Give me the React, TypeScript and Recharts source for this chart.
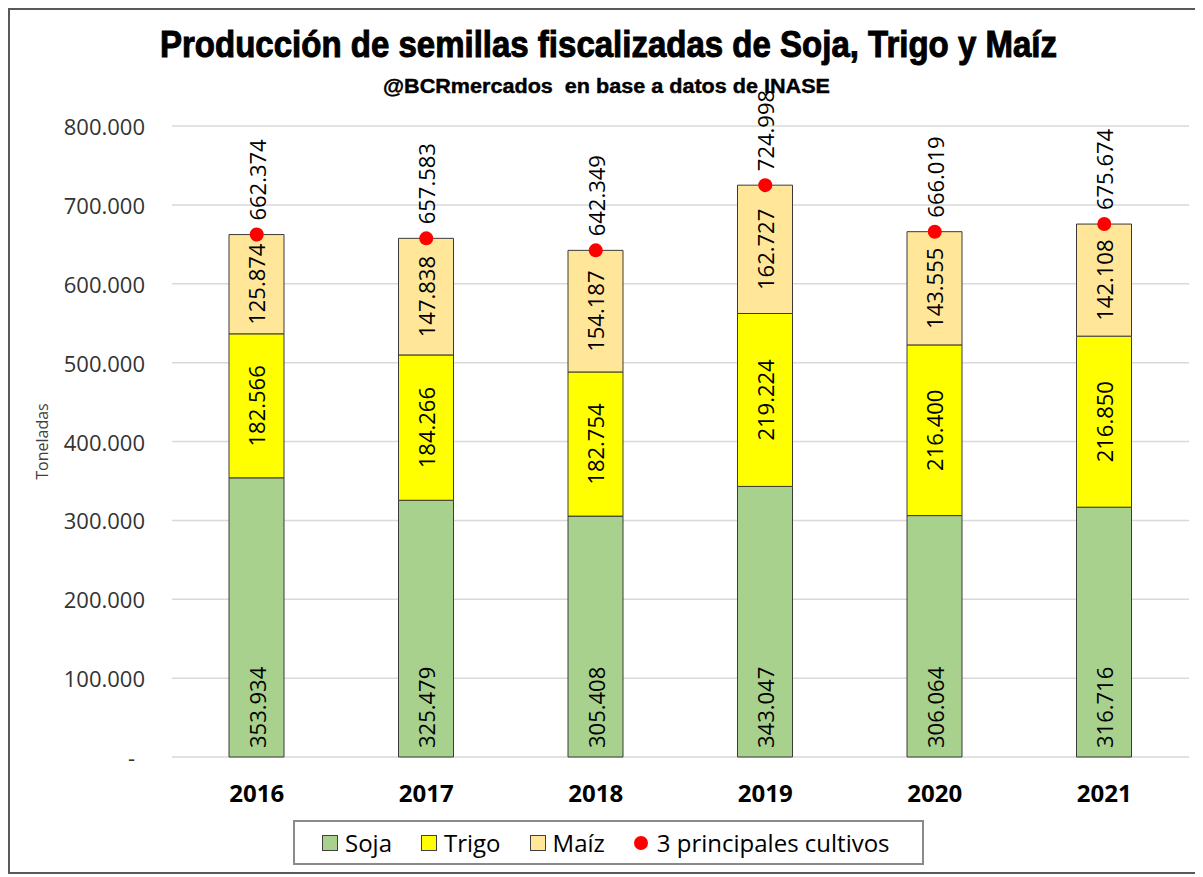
import { ComposedChart, Bar, Line, XAxis, YAxis, CartesianGrid, Legend, LabelList } from 'recharts'

const YEARS = ['2016', '2017', '2018', '2019', '2020', '2021']
const SOJA = [353934, 325479, 305408, 343047, 306064, 316716]
const TRIGO = [182566, 184266, 182754, 219224, 216400, 216850]
const MAIZ = [125874, 147838, 154187, 162727, 143555, 142108]
const TOTAL = [662374, 657583, 642349, 724998, 666019, 675674]
const Y_TICKS = [0, 100000, 200000, 300000, 400000, 500000, 600000, 700000, 800000]

const COLORS = { soja: '#A9D18E', trigo: '#FFFF00', maiz: '#FFE699', total: '#FF0000' }
const FONT = '"Open Sans", "Noto Sans", sans-serif'
const NARROW = '"Liberation Sans Narrow", "Liberation Sans", Arial, sans-serif'

const data = YEARS.map((year, i) => ({
  year,
  soja: SOJA[i],
  trigo: TRIGO[i],
  maiz: MAIZ[i],
  total: TOTAL[i],
}))

function fmt(n: number) {
  return String(n).replace(/\B(?=(\d{3})+(?!\d))/g, '.')
}

function YTick(props: any) {
  const { x, y, payload } = props
  const v = payload.value
  return (
    <text
      x={v === 0 ? x - 10 : x}
      y={y}
      textAnchor="end"
      dominantBaseline="central"
      fontFamily={FONT}
      fontSize={22}
      fill="#333"
    >
      {v === 0 ? '-' : fmt(v)}
    </text>
  )
}

function rotated(cx: number, cy: number, value: number, anchor: string) {
  return (
    <text
      x={cx}
      y={cy}
      transform={`rotate(-90 ${cx} ${cy})`}
      textAnchor={anchor}
      dominantBaseline="central"
      fontFamily={FONT}
      fontSize={22}
      fill="#000"
    >
      {fmt(value)}
    </text>
  )
}

// soja labels sit at the base of the bar
const baseLabel = (p: any) => rotated(p.x + p.width / 2, p.y + p.height - 9, p.value, 'start')
const centerLabel = (p: any) => rotated(p.x + p.width / 2, p.y + p.height / 2, p.value, 'middle')
const totalLabel = (p: any) => rotated(p.x, p.y - 14, p.value, 'start')

const LEGEND = [
  { label: 'Soja', color: COLORS.soja, kind: 'square' },
  { label: 'Trigo', color: COLORS.trigo, kind: 'square' },
  { label: 'Maíz', color: COLORS.maiz, kind: 'square' },
  { label: '3 principales cultivos', color: COLORS.total, kind: 'dot' },
]

function LegendBox() {
  return (
    <div
      style={{
        boxSizing: 'border-box',
        height: 45,
        width: 631,
        border: '2px solid #8a8a8a',
        display: 'flex',
        alignItems: 'center',
        paddingLeft: 27,
        fontFamily: FONT,
        fontSize: 24,
        color: '#000',
      }}
    >
      {LEGEND.map((item, i) => (
        <div key={item.label} style={{ display: 'flex', alignItems: 'center', marginLeft: i === 0 ? 0 : 29 }}>
          {item.kind === 'square' ? (
            <span
              style={{
                display: 'inline-block',
                boxSizing: 'border-box',
                width: 16,
                height: 16,
                background: item.color,
                border: '1px solid #404040',
                marginRight: 7,
              }}
            />
          ) : (
            <span
              style={{
                display: 'inline-block',
                width: 14,
                height: 14,
                borderRadius: 7,
                background: item.color,
                marginRight: 9,
              }}
            />
          )}
          <span style={{ lineHeight: '24px' }}>{item.label}</span>
        </div>
      ))}
    </div>
  )
}

export default function App() {
  return (
    <div
      style={{
        position: 'relative',
        boxSizing: 'border-box',
        width: 1193,
        height: 866,
        border: '2px solid #595959',
        background: '#fff',
      }}
    >
      <ComposedChart
        width={1189}
        height={862}
        data={data}
        margin={{ top: 116, right: 10, bottom: 7, left: 22 }}
      >
        <CartesianGrid vertical={false} stroke="#d9d9d9" strokeWidth={1.5} />
        <XAxis
          dataKey="year"
          axisLine={false}
          tickLine={false}
          tickSize={0}
          tickMargin={28}
          height={63}
          tick={{ fontFamily: FONT, fontSize: 24, fontWeight: 700, fill: '#000' }}
        />
        <YAxis
          domain={[0, 800000]}
          ticks={Y_TICKS}
          width={140}
          axisLine={false}
          tickLine={false}
          tickSize={0}
          tickMargin={27}
          tick={<YTick />}
          label={{
            value: 'Toneladas',
            angle: -90,
            position: 'insideLeft',
            offset: 10,
            style: { textAnchor: 'middle', fontFamily: FONT, fontSize: 16, fill: '#404040' },
          }}
        />
        <Legend
          verticalAlign="bottom"
          wrapperStyle={{ left: 283, width: 631, top: 810 }}
          content={() => <LegendBox />}
        />
        <Bar dataKey="soja" name="Soja" stackId="a" fill={COLORS.soja} stroke="#3a3a3a" strokeWidth={1} barSize={55} isAnimationActive={false}>
          <LabelList dataKey="soja" content={baseLabel} />
        </Bar>
        <Bar dataKey="trigo" name="Trigo" stackId="a" fill={COLORS.trigo} stroke="#3a3a3a" strokeWidth={1} barSize={55} isAnimationActive={false}>
          <LabelList dataKey="trigo" content={centerLabel} />
        </Bar>
        <Bar dataKey="maiz" name="Maíz" stackId="a" fill={COLORS.maiz} stroke="#3a3a3a" strokeWidth={1} barSize={55} isAnimationActive={false}>
          <LabelList dataKey="maiz" content={centerLabel} />
        </Bar>
        <Line
          dataKey="total"
          name="3 principales cultivos"
          stroke="none"
          dot={{ r: 7, fill: COLORS.total, stroke: 'none' }}
          activeDot={false}
          isAnimationActive={false}
        >
          <LabelList dataKey="total" content={totalLabel} />
        </Line>
      </ComposedChart>
      <svg
        width={1189}
        height={120}
        style={{ position: 'absolute', left: 0, top: 0, pointerEvents: 'none' }}
      >
        <text
          x={598.5}
          y={47}
          textAnchor="middle"
          fontFamily={NARROW}
          fontWeight={700}
          fontSize={37}
          textLength={897}
          lengthAdjust="spacingAndGlyphs"
          fill="#000"
          stroke="#000"
          strokeWidth={1}
        >
          Producción de semillas fiscalizadas de Soja, Trigo y Maíz
        </text>
        <text
          x={596.5}
          y={83}
          textAnchor="middle"
          fontFamily={NARROW}
          fontWeight={700}
          fontSize={20}
          textLength={447}
          lengthAdjust="spacingAndGlyphs"
          fill="#000"
          stroke="#000"
          strokeWidth={0.4}
          style={{ whiteSpace: 'pre' }}
        >
          @BCRmercados  en base a datos de INASE
        </text>
      </svg>
    </div>
  )
}
